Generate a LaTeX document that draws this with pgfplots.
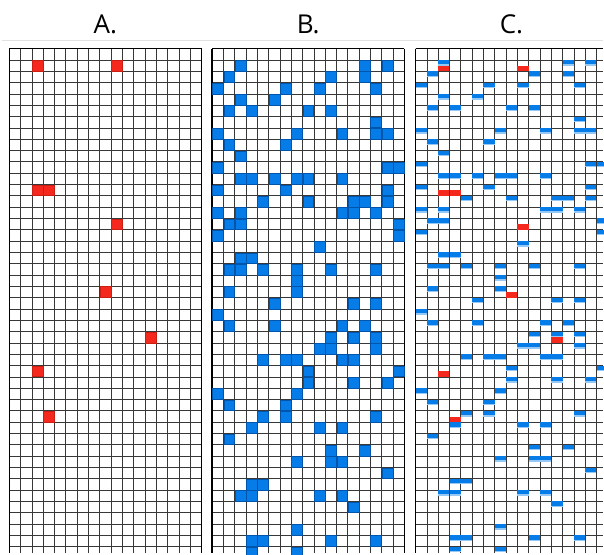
\documentclass[border=0pt]{standalone}
\usepackage{pgfplots}
\pgfplotsset{compat=1.18}
\usepackage{pgfplotstable}
\usepackage{fontspec}
\setmainfont{Open Sans}
\definecolor{cred}{RGB}{244,40,28}
\definecolor{credD}{RGB}{200,30,20}
\definecolor{cblue}{RGB}{6,124,232}
\definecolor{cblueL}{RGB}{150,200,245}
\definecolor{cblueD}{RGB}{0,85,170}
\definecolor{sep}{RGB}{225,225,225}

\pgfdeclareplotmark{tophalf}{%
  \pgfsetfillcolor{cblue}%
  \pgfpathrectangle{\pgfqpoint{-5.6pt}{1.3pt}}{\pgfqpoint{11.2pt}{4.3pt}}\pgfusepathqfill
  \pgfsetfillcolor{cblueL}%
  \pgfpathrectangle{\pgfqpoint{-5.6pt}{0pt}}{\pgfqpoint{11.2pt}{1.3pt}}\pgfusepathqfill}
\pgfdeclareplotmark{bothalf}{%
  \pgfsetfillcolor{cred}%
  \pgfpathrectangle{\pgfqpoint{-5.6pt}{-5.6pt}}{\pgfqpoint{11.2pt}{5.6pt}}\pgfusepathqfill}

% red cells (column, row)
\pgfplotstableread{
c r
2 1
9 1
2 12
3 12
9 15
8 21
12 25
2 28
3 32
}\tabA

% blue cells (column, row)
\pgfplotstableread{
c r
2 1
13 1
15 1
1 2
10 2
13 2
0 3
6 3
9 3
14 3
2 4
5 4
1 5
3 5
8 5
10 5
14 6
0 7
7 7
11 7
14 7
15 7
1 8
6 8
2 9
0 10
15 10
16 10
2 11
3 11
5 11
7 11
8 11
11 11
0 12
6 12
15 12
4 13
8 13
12 13
13 13
15 13
0 14
2 14
11 14
12 14
14 14
1 15
2 15
16 15
0 16
16 16
9 17
2 18
3 18
1 19
2 19
4 19
7 19
10 19
14 19
7 20
1 21
7 21
5 22
12 22
14 22
0 23
1 24
5 24
11 24
13 24
10 25
12 25
14 25
9 26
10 26
14 26
4 27
6 27
7 27
11 27
12 27
8 28
16 28
8 29
12 29
15 29
0 30
7 30
1 31
6 31
4 32
6 32
14 32
3 33
9 33
11 33
1 34
10 35
13 35
7 36
10 36
11 36
15 37
3 38
4 38
2 39
3 39
9 39
11 39
12 40
7 42
3 43
4 43
10 43
14 43
3 44
7 44
}\tabB

\pgfplotsset{gridax/.style={
  scale only axis, width=192.4pt, height=505.3pt,
  xmin=0, xmax=17, ymin=0, ymax=44.6, y dir=reverse,
  xtick={0,...,17}, ytick={0,...,44},
  xticklabels={}, yticklabels={}, major tick length=0pt,
  grid=major, major grid style={black!78, line width=0.7pt},
  axis line style={black, line width=1.2pt},
  axis x line*=top,
  anchor=north west}}

\begin{document}
\begin{tikzpicture}
\path (0,0) rectangle (604pt,554pt);
\draw[sep, line width=1pt] (2pt,513pt) -- (603.5pt,513pt);
\node[anchor=base, font=\fontsize{26}{30}\selectfont] at (105.5pt,520pt) {A.};
\node[anchor=base, font=\fontsize{26}{30}\selectfont] at (308.5pt,520pt) {B.};
\node[anchor=base, font=\fontsize{26}{30}\selectfont] at (512pt,520pt) {C.};

\begin{axis}[gridax, at={(9.3pt,505.3pt)}]
\addplot[overlay, only marks, mark=square*, mark size=5.4pt, mark options={fill=cred, draw=credD, line width=0.3pt}]
  table[x expr=\thisrow{c}+0.5, y expr=\thisrow{r}+0.5] {\tabA};
\end{axis}

\begin{axis}[gridax, at={(212.3pt,505.3pt)}]
\addplot[overlay, only marks, mark=square*, mark size=5.4pt, mark options={fill=cblue, draw=cblueD, line width=0.3pt}]
  table[x expr=\thisrow{c}+0.5, y expr=\thisrow{r}+0.5] {\tabB};
\end{axis}

\begin{axis}[gridax, at={(416pt,505.3pt)}, width=188pt, xmax=16.61, xtick={0,...,16}, axis y line*=left]
\addplot[overlay, only marks, mark=tophalf]
  table[x expr=\thisrow{c}+0.5, y expr=\thisrow{r}+0.5] {\tabB};
\addplot[overlay, only marks, mark=bothalf]
  table[x expr=\thisrow{c}+0.5, y expr=\thisrow{r}+0.5] {\tabA};
\end{axis}
\end{tikzpicture}
\end{document}
